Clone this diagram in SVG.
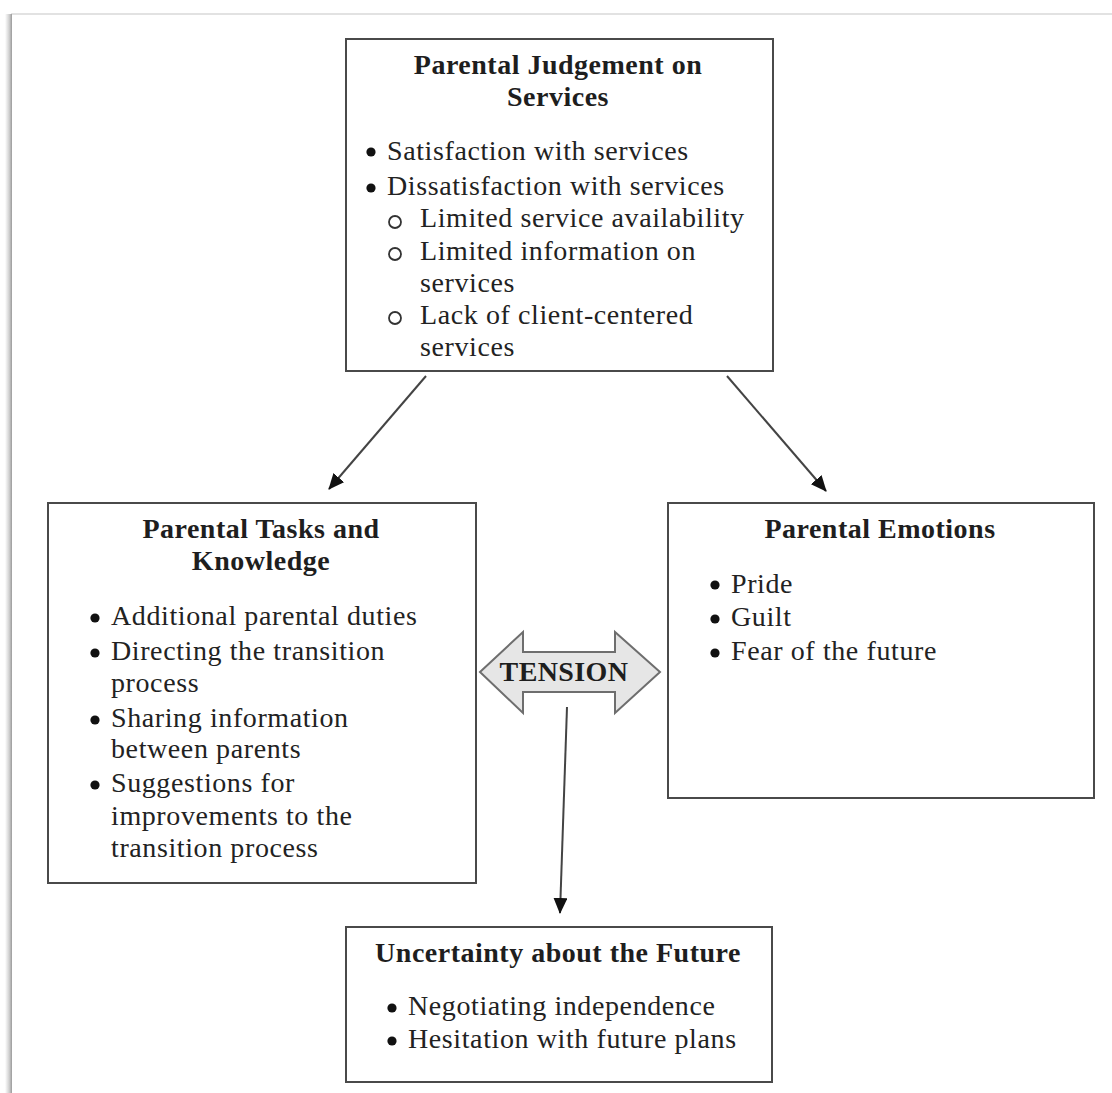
<svg xmlns="http://www.w3.org/2000/svg" width="1112" height="1093" viewBox="0 0 1112 1093">
<style>
  .box { fill: #ffffff; stroke: #4a4a4a; stroke-width: 2; }
  .title { font-family: "Liberation Serif", "Times New Roman", serif; font-size: 28px; font-weight: bold; fill: #1e1e1e; text-anchor: middle; letter-spacing: 0.5px; }
  .item { font-family: "Liberation Serif", "Times New Roman", serif; font-size: 28px; fill: #222222; letter-spacing: 0.6px; }
  .dot { fill: #111111; }
  .ring { fill: none; stroke: #333333; stroke-width: 1.8; }
  .conn { stroke: #444444; stroke-width: 2; fill: none; }
</style>
<defs>
  <marker id="ah" viewBox="0 0 16 14" refX="15" refY="7" markerWidth="16" markerHeight="14" markerUnits="userSpaceOnUse" orient="auto">
    <path d="M0,0 L16,7 L0,14 Z" fill="#111111"/>
  </marker>
  <linearGradient id="edge" x1="0" y1="0" x2="1" y2="0">
    <stop offset="0" stop-color="#ffffff"/>
    <stop offset="0.6" stop-color="#d0d0d0"/>
    <stop offset="1" stop-color="#9a9a9a"/>
  </linearGradient>
</defs>
<rect x="0" y="0" width="1112" height="1093" fill="#ffffff"/>
<g id="page-frame">
  <line x1="11" y1="14" x2="1112" y2="14" stroke="#e2e2e2" stroke-width="2"/>
  <rect x="5" y="14" width="7" height="1079" fill="url(#edge)"/>
</g>

<g id="connectors">
  <line class="conn" x1="426" y1="376" x2="329" y2="489" marker-end="url(#ah)"/>
  <line class="conn" x1="727" y1="376" x2="826" y2="491" marker-end="url(#ah)"/>
  <line class="conn" x1="567" y1="707" x2="560" y2="913" marker-end="url(#ah)"/>
</g>

<g id="node-judgement">
  <rect class="box" x="346" y="39" width="427" height="332"/>
  <text class="title" x="558" y="74">Parental Judgement on</text>
  <text class="title" x="558" y="106">Services</text>
  <circle class="dot" cx="371" cy="152" r="4.6"/>
  <text class="item" x="387" y="160">Satisfaction with services</text>
  <circle class="dot" cx="371" cy="188" r="4.6"/>
  <text class="item" x="387" y="195">Dissatisfaction with services</text>
  <circle class="ring" cx="395" cy="222" r="6"/>
  <text class="item" x="420" y="227">Limited service availability</text>
  <circle class="ring" cx="395" cy="254" r="6"/>
  <text class="item" x="420" y="260">Limited information on</text>
  <text class="item" x="420" y="292">services</text>
  <circle class="ring" cx="395" cy="318" r="6"/>
  <text class="item" x="420" y="324">Lack of client-centered</text>
  <text class="item" x="420" y="356">services</text>
</g>

<g id="node-tasks">
  <rect class="box" x="48" y="503" width="428" height="380"/>
  <text class="title" x="261" y="538">Parental Tasks and</text>
  <text class="title" x="261" y="570">Knowledge</text>
  <circle class="dot" cx="95" cy="618" r="4.6"/>
  <text class="item" x="111" y="625">Additional parental duties</text>
  <circle class="dot" cx="95" cy="653" r="4.6"/>
  <text class="item" x="111" y="660">Directing the transition</text>
  <text class="item" x="111" y="692">process</text>
  <circle class="dot" cx="95" cy="720" r="4.6"/>
  <text class="item" x="111" y="727">Sharing information</text>
  <text class="item" x="111" y="758">between parents</text>
  <circle class="dot" cx="95" cy="785" r="4.6"/>
  <text class="item" x="111" y="792">Suggestions for</text>
  <text class="item" x="111" y="825">improvements to the</text>
  <text class="item" x="111" y="857">transition process</text>
</g>

<g id="node-emotions">
  <rect class="box" x="668" y="503" width="426" height="295"/>
  <text class="title" x="880" y="538">Parental Emotions</text>
  <circle class="dot" cx="715" cy="585" r="4.6"/>
  <text class="item" x="731" y="593">Pride</text>
  <circle class="dot" cx="715" cy="619" r="4.6"/>
  <text class="item" x="731" y="626">Guilt</text>
  <circle class="dot" cx="715" cy="653" r="4.6"/>
  <text class="item" x="731" y="660">Fear of the future</text>
</g>

<g id="node-tension">
  <path d="M480,672 L523,632 L523,652 L615,652 L615,632 L660,672 L615,713 L615,692 L523,692 L523,713 Z" fill="#e6e6e6" stroke="#6e6e6e" stroke-width="2" stroke-linejoin="miter"/>
  <text class="title" x="564" y="681" style="letter-spacing:0.4px">TENSION</text>
</g>

<g id="node-uncertainty">
  <rect class="box" x="346" y="927" width="426" height="155"/>
  <text class="title" x="558" y="962">Uncertainty about the Future</text>
  <circle class="dot" cx="392" cy="1008" r="4.6"/>
  <text class="item" x="408" y="1015">Negotiating independence</text>
  <circle class="dot" cx="392" cy="1041" r="4.6"/>
  <text class="item" x="408" y="1048">Hesitation with future plans</text>
</g>
</svg>
